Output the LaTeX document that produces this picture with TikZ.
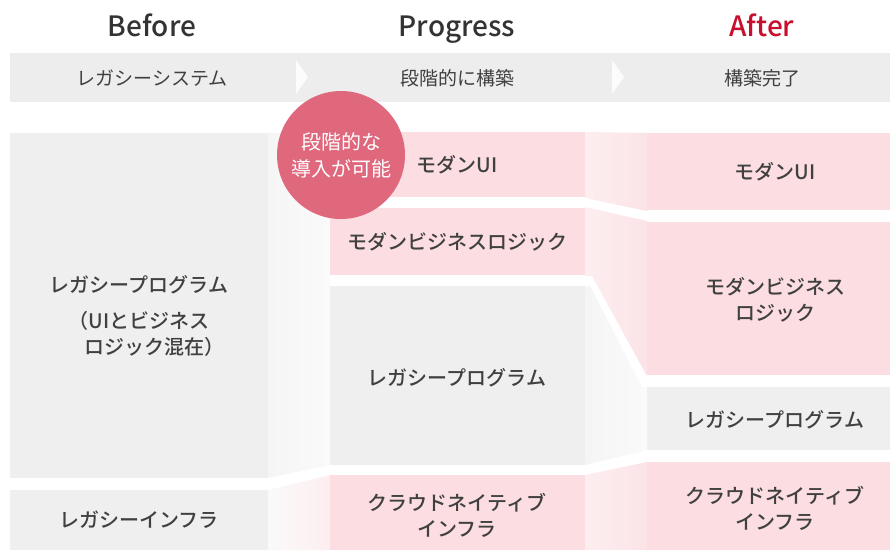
\documentclass[tikz,border=0pt]{standalone}
\usepackage{fontspec}
\setmainfont{Noto Sans CJK JP}
\newfontfamily\medfont{Noto Sans CJK JP Medium}
\definecolor{band}{HTML}{EDEDED}
\definecolor{gboxc}{HTML}{EFEFEF}
\definecolor{pboxc}{HTML}{FBDDE2}
\definecolor{circc}{HTML}{E0687D}
\definecolor{afterc}{HTML}{C8102E}
\definecolor{txt}{HTML}{404040}
\definecolor{titlegray}{HTML}{333333}
\definecolor{pflowL}{HTML}{FDEEF0}
\definecolor{pflowR}{HTML}{FBE3E7}
\definecolor{gflowL}{HTML}{F5F5F5}
\definecolor{gflowR}{HTML}{FAFAFA}
\begin{document}
\begin{tikzpicture}[x=1pt,y=-1pt,
  title/.style={font=\fontsize{28}{30}\selectfont\medfont, text=titlegray, inner sep=0, anchor=base},
  sub/.style={font=\fontsize{19}{24}\selectfont, text=txt, inner sep=0},
  lbl/.style={font=\fontsize{20}{26}\selectfont\medfont, text=txt, align=center, inner sep=0},
  gbox/.style={fill=gboxc},
  pbox/.style={fill=pboxc},
  pflow/.style={left color=pflowL, right color=pflowR},
  gflow/.style={left color=gflowL, right color=gflowR},
  chev/.style={fill=white, opacity=0.85},
]
\useasboundingbox (0,0) rectangle (890,550);
\fill[white] (0,0) rectangle (890,550);

% header band
\fill[band] (10,53) rectangle (890,102);
\fill[chev] (296,60) -- (308,77) -- (296,94) -- cycle;
\fill[chev] (612,60) -- (624,77) -- (612,94) -- cycle;

% titles
\node[title] (tb) at (152,36) {Before};
\node[title] (tp) at (457,36) {Progress};
\node[title, text=afterc] (ta) at (762,36) {After};
\node[sub] (sb) at (152,78) {レガシーシステム};
\node[sub] (sp) at (457,78) {段階的に構築};
\node[sub] (sa) at (762,78) {構築完了};

% flows left -> middle
\shade[gflow] (268,133) -- (330,132) -- (330,465) -- (268,478) -- cycle;
\shade[left color=gflowR, right color=pflowL] (268,490) -- (330,475) -- (330,550) -- (268,550) -- cycle;

% flows middle -> right
\shade[pflow] (585,132) -- (647,133) -- (647,211) -- (585,198) -- cycle;
\shade[pflow] (585,207) -- (647,221) -- (647,376) -- (592,276) -- (585,276) -- cycle;
\shade[gflow] (585,286) -- (590,286) -- (642,387) -- (647,387) -- (647,450) -- (585,465) -- cycle;
\shade[pflow] (585,475) -- (647,462) -- (647,550) -- (585,550) -- cycle;

% left column
\fill[gbox] (10,133) rectangle (268,478);
\fill[gbox] (10,490) rectangle (268,550);
\node[lbl] (lprog) at (139,315.5) {レガシープログラム\\[10pt]（UIとビジネス\hspace*{28pt}\\\hspace*{30pt}ロジック混在）};
\node[lbl] (linfra) at (139,520) {レガシーインフラ};

% middle column
\fill[pbox] (330,132) rectangle (585,197);
\fill[pbox] (330,208) rectangle (585,275);
\fill[gbox] (330,286) rectangle (585,465);
\fill[pbox] (330,475) rectangle (585,550);
\node[lbl] (mui) at (457,165) {モダンUI};
\node[lbl] (mbl) at (457,242) {モダンビジネスロジック};
\node[lbl] (mprog) at (457,378) {レガシープログラム};
\node[lbl] (mcloud) at (457,515) {クラウドネイティブ\\インフラ};

% right column
\fill[pbox] (647,133) rectangle (890,210);
\fill[pbox] (647,222) rectangle (890,375);
\fill[gbox] (647,387) rectangle (890,450);
\fill[pbox] (647,462) rectangle (890,550);
\node[lbl] (rui) at (775,172) {モダンUI};
\node[lbl] (rbl) at (775,300) {モダンビジネス\\ロジック};
\node[lbl] (rprog) at (775,420) {レガシープログラム};
\node[lbl] (rcloud) at (775,508) {クラウドネイティブ\\インフラ};

% circle badge
\node[circle, fill=circc, minimum size=128pt, inner sep=0, text=white,
      font=\fontsize{20}{27}\selectfont, align=center] (badge) at (341,155)
      {段階的な\\導入が可能};
\end{tikzpicture}
\end{document}
